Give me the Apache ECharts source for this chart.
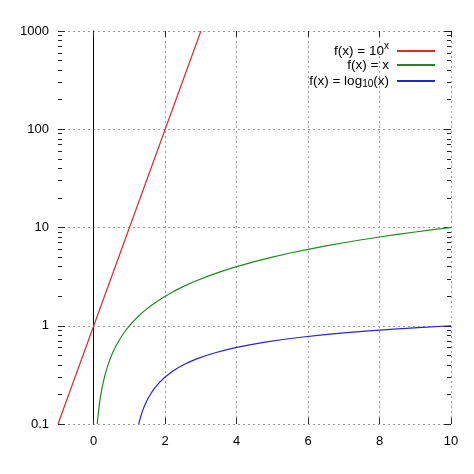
<!DOCTYPE html>
<html>
<head>
<meta charset="utf-8">
<script src="https://cdn.jsdelivr.net/npm/echarts@6/dist/echarts.min.js"></script>
<style>
  html, body { margin: 0; padding: 0; background: #fff; }
  #chart { width: 474px; height: 474px; }
</style>
</head>
<body>
<div id="chart"></div>
<script>
// values
var expX = [-1, 0, 1, 2, 3];
var expY = [0.1, 1, 10, 100, 1000];

var linX = [0.1, 0.105, 0.11, 0.12, 0.13, 0.14, 0.15, 0.165, 0.18, 0.2, 0.22, 0.25, 0.28, 0.32, 0.36, 0.4, 0.45, 0.5, 0.56, 0.63, 0.7, 0.8, 0.9, 1,
  1.1, 1.25, 1.4, 1.6, 1.8, 2, 2.25, 2.5, 2.8, 3.2, 3.6, 4, 4.5, 5, 5.5, 6, 6.5, 7, 7.5, 8, 8.5, 9, 9.5, 10];
var linY = [0.1, 0.105, 0.11, 0.12, 0.13, 0.14, 0.15, 0.165, 0.18, 0.2, 0.22, 0.25, 0.28, 0.32, 0.36, 0.4, 0.45, 0.5, 0.56, 0.63, 0.7, 0.8, 0.9, 1,
  1.1, 1.25, 1.4, 1.6, 1.8, 2, 2.25, 2.5, 2.8, 3.2, 3.6, 4, 4.5, 5, 5.5, 6, 6.5, 7, 7.5, 8, 8.5, 9, 9.5, 10];

var logX = [1.259, 1.27, 1.28, 1.3, 1.32, 1.34, 1.37, 1.4, 1.44, 1.48, 1.53, 1.58, 1.64, 1.7, 1.78, 1.86, 1.95, 2.05, 2.2, 2.35, 2.5,
  2.7, 2.9, 3.15, 3.4, 3.7, 4, 4.4, 4.8, 5.3, 5.8, 6.4, 7, 7.7, 8.4, 9.2, 10];
var logY = [0.1, 0.1038, 0.1072, 0.1139, 0.1206, 0.1271, 0.1367, 0.1461, 0.1584, 0.1703, 0.1847, 0.1987, 0.2148, 0.2304, 0.2504, 0.2695,
  0.29, 0.3118, 0.3424, 0.3711, 0.3979, 0.4314, 0.4624, 0.4983, 0.5315, 0.5682, 0.6021, 0.6435, 0.6812, 0.7243, 0.7634, 0.8062,
  0.8451, 0.8865, 0.9243, 0.9638, 1];

var xTicks = [0, 2, 4, 6, 8, 10];
var yTicks = [0.1, 1, 10, 100, 1000];
var yMinorTicks = [0.2, 0.3, 0.4, 0.5, 0.6, 0.7, 0.8, 0.9,
  2, 3, 4, 5, 6, 7, 8, 9,
  20, 30, 40, 50, 60, 70, 80, 90,
  200, 300, 400, 500, 600, 700, 800, 900];

var names = ["f(x) = 10^x", "f(x) = x", "f(x) = log10(x)"];
var colors = ["#dd2a2a", "#1f8a1f", "#2626d6"];

function pairs(xs, ys) {
  return xs.map(function (x, i) { return [x, ys[i]]; });
}

var font = "Liberation Sans, Arial, sans-serif";
var gridLine = { show: true, lineStyle: { color: "#9a9a9a", type: [2, 3], width: 1 } };

function yAx(pos, ticks, len, opts) {
  var a = {
    type: "log", logBase: 10, min: 0.1, max: 1000, position: pos,
    axisLine: { show: false, onZero: false },
    axisTick: { show: true, inside: true, length: len, customValues: ticks,
      lineStyle: { color: "#222", width: 1 } },
    axisLabel: { show: false },
    splitLine: { show: false }
  };
  return Object.assign(a, opts || {});
}

var chart = echarts.init(document.getElementById("chart"));

var legendTops = [41, 58, 74];
var option = {
  animation: false,
  backgroundColor: "#fff",
  grid: { left: 58, right: 23, top: 31, bottom: 50, containLabel: false },
  legend: names.map(function (n, i) {
    return {
      data: [n], right: 39, top: legendTops[i], padding: 0,
      align: "right", itemWidth: 38, itemHeight: 2, icon: "rect",
      textStyle: {
        fontFamily: font, fontSize: 13.5, color: "#000",
        rich: {
          n: { fontFamily: font, fontSize: 13.5, color: "#000" },
          e: { fontFamily: font, fontSize: 13.5, color: "#000", padding: [0, 3, 0, 0] },
          sup: { fontFamily: font, fontSize: 10, color: "#000", verticalAlign: "top", padding: [0, 3, 10, 0] },
          sub: { fontFamily: font, fontSize: 10, color: "#000", verticalAlign: "bottom", padding: [6, 0, 0, 0] }
        }
      },
      formatter: function (name) {
        if (name === names[0]) return "{n|f(x) = 10}{sup|x}";
        if (name === names[2]) return "{n|f(x) = log}{sub|10}{e|(x)}";
        return "{e|" + name + "}";
      }
    };
  }),
  xAxis: [
    {
      type: "value", min: -1, max: 10, position: "bottom",
      axisLine: { show: false, onZero: false },
      axisTick: { show: true, inside: true, length: 6, customValues: xTicks,
        lineStyle: { color: "#222" } },
      axisLabel: { customValues: xTicks, fontFamily: font, fontSize: 13, color: "#000", margin: 11 },
      splitLine: gridLine
    },
    {
      type: "value", min: -1, max: 10, position: "top",
      axisLine: { show: false, onZero: false },
      axisTick: { show: true, inside: true, length: 6, customValues: xTicks,
        lineStyle: { color: "#222" } },
      axisLabel: { show: false },
      splitLine: { show: false }
    }
  ],
  yAxis: [
    yAx("left", yTicks, 7, {
      axisLabel: { show: true, customValues: yTicks, fontFamily: font, fontSize: 13, color: "#000", margin: 9,
        formatter: function (v) { return String(v); } },
      splitLine: gridLine
    }),
    yAx("left", yMinorTicks, 4),
    yAx("right", yTicks, 7),
    yAx("right", yMinorTicks, 4),
    {
      type: "log", logBase: 10, min: 0.1, max: 1000,
      axisLine: { show: true, onZero: true, onZeroAxisIndex: 0, lineStyle: { color: "#000", width: 1 } },
      axisTick: { show: false }, axisLabel: { show: false }, splitLine: { show: false }
    }
  ],
  series: [
    { name: names[0], data: pairs(expX, expY) },
    { name: names[1], data: pairs(linX, linY) },
    { name: names[2], data: pairs(logX, logY) }
  ].map(function (s, i) {
    return Object.assign(s, {
      type: "line", xAxisIndex: 0, yAxisIndex: 0, showSymbol: false, symbol: "none",
      clip: true, color: colors[i], lineStyle: { color: colors[i], width: 1.2 }
    });
  })
};

chart.setOption(option);
</script>
</body>
</html>
